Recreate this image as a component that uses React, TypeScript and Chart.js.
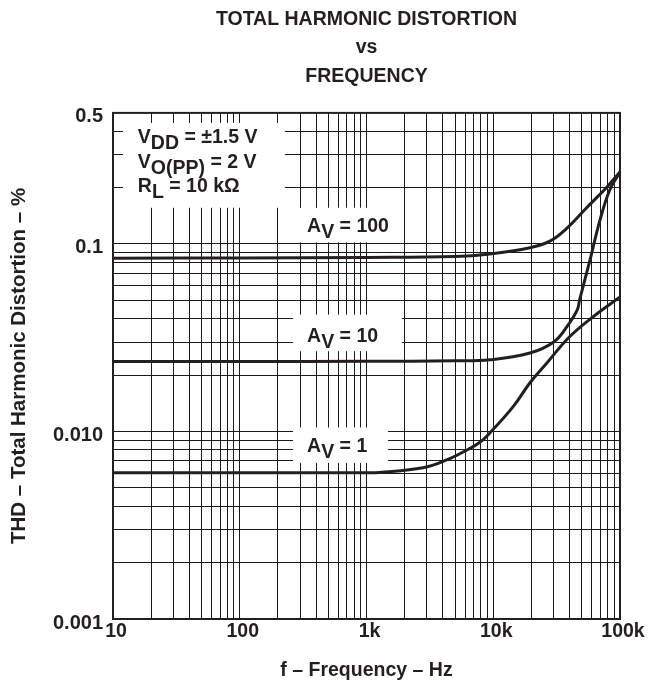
import React, { useEffect, useRef } from 'react';
import { Chart, registerables } from 'chart.js';

Chart.register(...registerables);

// ---- data ----
const av100Freq = [10, 100, 1000, 5000, 9400, 19500, 28000, 38000, 55000, 79000, 100000];
const av100Thd = [0.0839, 0.0843, 0.0848, 0.0858, 0.0885, 0.0955, 0.1035, 0.121, 0.157, 0.2015, 0.242];

const av10Freq = [10, 100, 1000, 5000, 9400, 19500, 30000, 38000, 46000, 48000, 58000, 69500, 83000, 100000];
const av10Thd = [0.0236, 0.0236, 0.0237, 0.0238, 0.0241, 0.0262, 0.030, 0.0361, 0.0445, 0.0503, 0.0822, 0.134, 0.194, 0.242];

const av1Freq = [10, 100, 1000, 1260, 2790, 4300, 6200, 7900, 9400, 14300, 19500, 26500, 40000, 61000, 100000];
const av1Thd = [0.00603, 0.00603, 0.00603, 0.00605, 0.0064, 0.00705, 0.00797, 0.00879, 0.00982, 0.01352, 0.0182, 0.0232, 0.032, 0.0408, 0.0522];

const xTickValues = [10, 100, 1000, 10000, 100000];
const xTickLabels = ['10', '100', '1k', '10k', '100k'];
const yTickValues = [0.001, 0.01, 0.1, 0.5];
const yTickLabels = ['0.001', '0.010', '0.1', '0.5'];

const titleLines = ['TOTAL HARMONIC DISTORTION', 'vs', 'FREQUENCY'];
const xTitle = 'f \u2013 Frequency \u2013 Hz';
const yTitle = 'THD \u2013 Total Harmonic Distortion \u2013 %';

// rich text: [text, isSubscript]
const conditionLines: [string, boolean][][] = [
  [['V', false], ['DD', true], [' = \u00b11.5 V', false]],
  [['V', false], ['O(PP)', true], [' = 2 V', false]],
  [['R', false], ['L', true], [' = 10 k\u03a9', false]],
];
const conditionBaselines = [0.3446, 0.2535, 0.19];
const conditionLeft = 15.7;

const gainLabels: [string, boolean][][] = [
  [['A', false], ['V', true], [' = 100', false]],
  [['A', false], ['V', true], [' = 10', false]],
  [['A', false], ['V', true], [' = 1', false]],
];
const gainBaselines = [0.116, 0.030, 0.00778];
const gainLeft = 340;

// white label backgrounds in data coordinates: [f0, f1, thdLow, thdHigh]
const labelBoxes: [number, number, number, number][] = [
  [12, 227, 0.156, 0.442],
  [227, 1940, 0.102, 0.156],
  [263, 1900, 0.0268, 0.042],
  [263, 1480, 0.0068, 0.0105],
];

const FONT = "'Liberation Sans', Arial, Helvetica, sans-serif";
const INK = '#231f20';

function matchLabel(v: number, vals: number[], labels: string[]) {
  for (let i = 0; i < vals.length; i++) {
    if (Math.abs(v - vals[i]) / vals[i] < 1e-6) return labels[i];
  }
  return '';
}

function dropFifteen(scale: any) {
  scale.ticks = scale.ticks.filter((t: any) => {
    const e = Math.floor(Math.log10(t.value) + 1e-9);
    const m = t.value / Math.pow(10, e);
    return Math.abs(m - 1.5) > 0.01;
  });
}

function drawRich(ctx: CanvasRenderingContext2D, x: number, y: number, segs: [string, boolean][]) {
  let cx = x;
  for (const [t, sub] of segs) {
    ctx.fillText(t, cx, sub ? y + 6 : y);
    cx += ctx.measureText(t).width;
  }
}

const annotationPlugin = {
  id: 'thdAnnotations',
  beforeDatasetsDraw(chart: any) {
    const { ctx, scales } = chart;
    const xs = scales.x;
    const ys = scales.y;
    ctx.save();
    ctx.fillStyle = '#ffffff';
    for (const [f0, f1, t0, t1] of labelBoxes) {
      const x1 = xs.getPixelForValue(f0);
      const x2 = xs.getPixelForValue(f1);
      const y1 = ys.getPixelForValue(t1);
      const y2 = ys.getPixelForValue(t0);
      ctx.fillRect(x1, y1, x2 - x1, y2 - y1);
    }
    ctx.fillStyle = INK;
    ctx.font = `bold 19.5px ${FONT}`;
    ctx.textBaseline = 'alphabetic';
    ctx.textAlign = 'left';
    conditionLines.forEach((segs, i) => {
      drawRich(ctx, xs.getPixelForValue(conditionLeft), ys.getPixelForValue(conditionBaselines[i]), segs);
    });
    gainLabels.forEach((segs, i) => {
      drawRich(ctx, xs.getPixelForValue(gainLeft), ys.getPixelForValue(gainBaselines[i]), segs);
    });
    ctx.restore();
  },
  afterDatasetsDraw(chart: any) {
    const { ctx, chartArea } = chart;
    ctx.save();
    ctx.strokeStyle = INK;
    ctx.lineWidth = 2;
    ctx.strokeRect(chartArea.left, chartArea.top, chartArea.right - chartArea.left, chartArea.bottom - chartArea.top);
    ctx.restore();
  },
};

function series(freq: number[], thd: number[]) {
  return freq.map((f, i) => ({ x: f, y: thd[i] }));
}

export default function App() {
  const ref = useRef<HTMLCanvasElement | null>(null);

  useEffect(() => {
    if (!ref.current) return;
    const lineStyle = {
      borderColor: INK,
      borderWidth: 3,
      pointRadius: 0,
      fill: false,
      tension: 0.4,
    };
    const chart = new Chart(ref.current, {
      type: 'line',
      data: {
        datasets: [
          { label: 'AV = 100', data: series(av100Freq, av100Thd), ...lineStyle },
          { label: 'AV = 10', data: series(av10Freq, av10Thd), ...lineStyle },
          { label: 'AV = 1', data: series(av1Freq, av1Thd), ...lineStyle },
        ],
      },
      options: {
        responsive: false,
        animation: false,
        devicePixelRatio: 1,
        layout: { padding: { left: 0, right: 30, top: 0, bottom: 0 } },
        plugins: {
          legend: { display: false },
          tooltip: { enabled: false },
          title: {
            display: true,
            text: titleLines,
            fullSize: false,
            color: INK,
            font: { family: FONT, size: 19.5, weight: 'bold', lineHeight: 1.46 },
            padding: { top: 5, bottom: 22.5 },
          },
        },
        scales: {
          x: {
            type: 'logarithmic',
            min: 10,
            max: 100000,
            afterBuildTicks: dropFifteen,
            afterFit: (s: any) => { s.height = 64; },
            grid: { color: '#1a1a1a', lineWidth: 1, drawTicks: false },
            border: { color: INK, width: 2 },
            ticks: {
              autoSkip: false,
              maxRotation: 0,
              padding: 1,
              labelOffset: 3,
              color: INK,
              font: { family: FONT, size: 19.5, weight: 'bold' },
              callback: (v: any) => matchLabel(Number(v), xTickValues, xTickLabels),
            },
            title: {
              display: true,
              text: xTitle,
              color: INK,
              font: { family: FONT, size: 19.5, weight: 'bold', lineHeight: 1.2 },
              padding: { top: 0, bottom: 1 },
            },
          },
          y: {
            type: 'logarithmic',
            min: 0.001,
            max: 0.5,
            afterBuildTicks: dropFifteen,
            afterFit: (s: any) => { s.width = 113; },
            grid: { color: '#1a1a1a', lineWidth: 1, drawTicks: false },
            border: { color: INK, width: 2 },
            ticks: {
              autoSkip: false,
              padding: 10,
              labelOffset: 4,
              color: INK,
              font: { family: FONT, size: 20, weight: 'bold' },
              callback: (v: any) => matchLabel(Number(v), yTickValues, yTickLabels),
            },
            title: {
              display: true,
              text: yTitle,
              color: INK,
              font: { family: FONT, size: 20.5, weight: 'bold', lineHeight: 1.2 },
              padding: { top: 7, bottom: 0 },
            },
          },
        },
      },
      plugins: [annotationPlugin],
    } as any);
    return () => chart.destroy();
  }, []);

  return (
    <div style={{ position: 'absolute', left: 0, top: 0, width: 650, height: 683, background: '#fff' }}>
      <canvas ref={ref} width={650} height={683} style={{ display: 'block' }} />
    </div>
  );
}
